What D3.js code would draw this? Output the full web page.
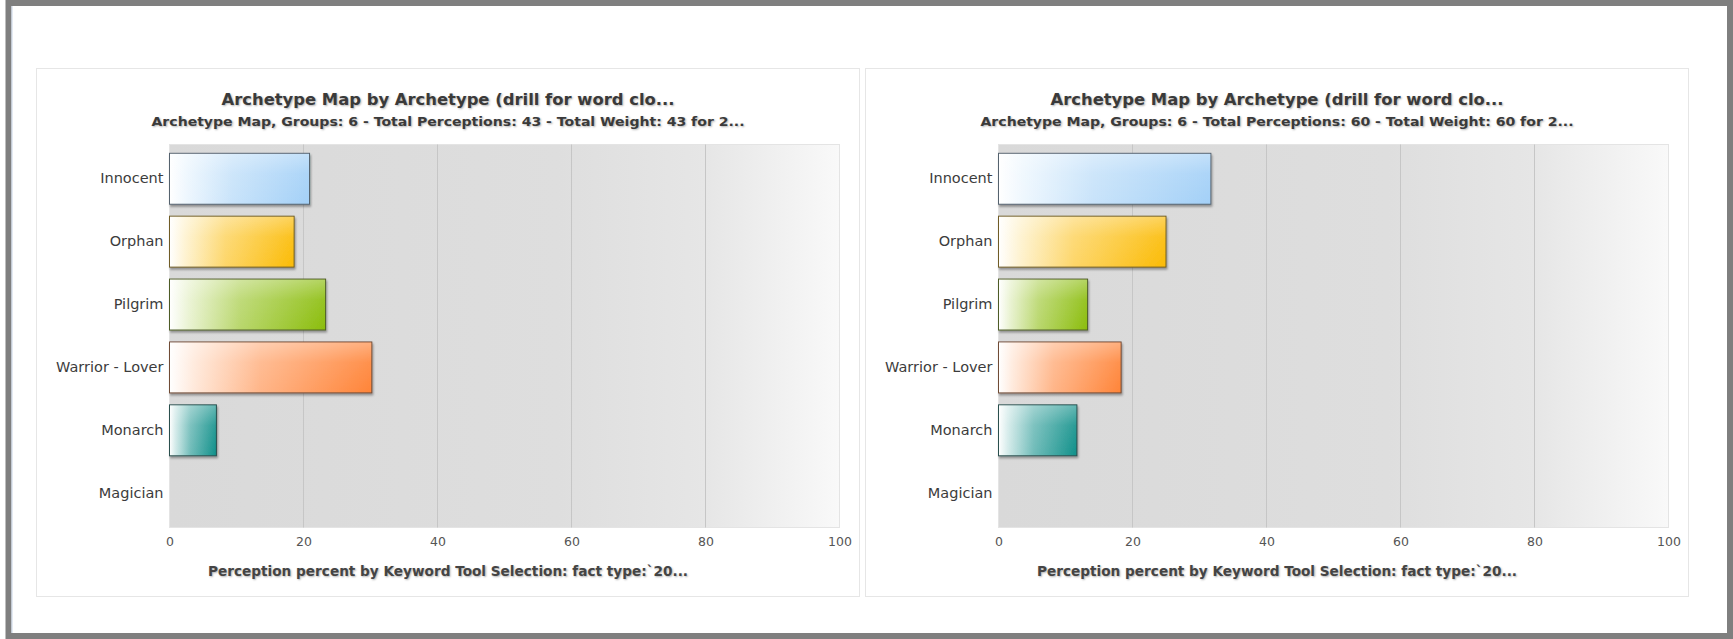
<!DOCTYPE html>
<html>
<head>
<meta charset="utf-8">
<script src="https://cdn.jsdelivr.net/npm/d3@7"></script>
<style>
  body { margin: 0; background: #fff; }
  text { font-family: "DejaVu Sans", Verdana, sans-serif; }
  .title { text-shadow: 1px 1px 2px rgba(0,0,0,0.3); }
</style>
</head>
<body>
<div id="my_dataviz"></div>
<script>
// data
const categories = ["Innocent", "Orphan", "Pilgrim", "Warrior - Lover", "Monarch", "Magician"];
const leftValues = [20.9, 18.6, 23.3, 30.2, 7.0, 0];
const rightValues = [31.7, 25.0, 13.3, 18.3, 11.7, 0];
const barColors = ["#a3d0f7", "#fbbb05", "#8bbd0c", "#ff8438", "#10908a", "#8a6cc0"];
const xTicks = [0, 20, 40, 60, 80, 100];
const chartTitle = "Archetype Map by Archetype (drill for word clo...";
const leftSubtitle = "Archetype Map, Groups: 6 - Total Perceptions: 43 - Total Weight: 43 for 2...";
const rightSubtitle = "Archetype Map, Groups: 6 - Total Perceptions: 60 - Total Weight: 60 for 2...";
const axisTitle = "Perception percent by Keyword Tool Selection: fact type:\u02CB20...";

const W = 1733, H = 639;

const svg = d3.select("#my_dataviz")
  .append("svg")
  .attr("width", W)
  .attr("height", H);

const defs = svg.append("defs");

// plot background: darker left, fading to near white on the right
const bg = defs.append("linearGradient").attr("id", "plotBg");
bg.append("stop").attr("offset", "0%").attr("stop-color", "#d9d9d9");
bg.append("stop").attr("offset", "58%").attr("stop-color", "#dedede");
bg.append("stop").attr("offset", "80%").attr("stop-color", "#e6e6e6");
bg.append("stop").attr("offset", "100%").attr("stop-color", "#f9f9f9");

// one gradient per bar colour, white on the left
barColors.forEach((c, i) => {
  const g = defs.append("linearGradient").attr("id", "bar" + i);
  g.append("stop").attr("offset", "0%").attr("stop-color", "#ffffff");
  g.append("stop").attr("offset", "12%").attr("stop-color", d3.interpolateRgb("#ffffff", c)(0.18));
  g.append("stop").attr("offset", "45%").attr("stop-color", d3.interpolateRgb("#ffffff", c)(0.6));
  g.append("stop").attr("offset", "100%").attr("stop-color", c);
});

// soft top highlight over the bars
const gloss = defs.append("linearGradient").attr("id", "gloss")
  .attr("x1", 0).attr("x2", 0).attr("y1", 0).attr("y2", 1);
gloss.append("stop").attr("offset", "0%").attr("stop-color", "#fff").attr("stop-opacity", 0.35);
gloss.append("stop").attr("offset", "40%").attr("stop-color", "#fff").attr("stop-opacity", 0.1);
gloss.append("stop").attr("offset", "100%").attr("stop-color", "#fff").attr("stop-opacity", 0);

const shadow = defs.append("filter").attr("id", "shadow")
  .attr("x", "-10%").attr("y", "-10%").attr("width", "130%").attr("height", "150%");
shadow.append("feDropShadow")
  .attr("dx", 1).attr("dy", 2).attr("stdDeviation", 1.2)
  .attr("flood-color", "#000").attr("flood-opacity", 0.35);

// outer grey frame
svg.append("rect")
  .attr("x", 8.5).attr("y", 3).attr("width", W - 11.5).attr("height", H - 6)
  .attr("fill", "#fff").attr("stroke", "#7f7f7f").attr("stroke-width", 6);
svg.append("line")
  .attr("x1", 12).attr("x2", 12).attr("y1", 6).attr("y2", H - 6)
  .attr("stroke", "#c9d6e8");

function drawPanel(px, values, subtitle) {
  const panelW = 823, panelH = 528;
  const margin = { top: 76, right: 20, bottom: 69, left: 133 };
  const width = panelW - margin.left - margin.right;
  const height = panelH - margin.top - margin.bottom;

  const panel = svg.append("g").attr("transform", `translate(${px},68.5)`);

  panel.append("rect")
    .attr("width", panelW).attr("height", panelH)
    .attr("fill", "#fff").attr("stroke", "#e6e6e6");

  const g = panel.append("g")
    .attr("transform", `translate(${margin.left},${margin.top})`);

  const x = d3.scaleLinear().domain([0, 100]).range([0, width]);
  const y = d3.scaleBand()
    .domain(categories)
    .range([0, height])
    .paddingInner(0.19)
    .paddingOuter(0.14);

  g.append("rect")
    .attr("width", width).attr("height", height)
    .attr("fill", "url(#plotBg)")
    .attr("stroke", "#e4e4e4");

  // vertical grid lines
  g.selectAll(".grid")
    .data(xTicks.slice(1, -1))
    .join("line")
    .attr("x1", d => x(d)).attr("x2", d => x(d))
    .attr("y1", 0).attr("y2", height)
    .attr("stroke", "#c6c6c6");

  // bars
  const bars = g.selectAll(".bar")
    .data(values)
    .join("g")
    .attr("filter", "url(#shadow)")
    .style("display", d => d > 0 ? null : "none");

  bars.append("rect")
    .attr("x", 0)
    .attr("y", (d, i) => y(categories[i]))
    .attr("width", d => x(d))
    .attr("height", y.bandwidth())
    .attr("fill", (d, i) => `url(#bar${i})`)
    .attr("stroke", (d, i) => d3.interpolateRgb(barColors[i], "#333")(0.7))
    .attr("stroke-width", 1);

  bars.append("rect")
    .attr("x", 0.5)
    .attr("y", (d, i) => y(categories[i]) + 0.5)
    .attr("width", d => Math.max(0, x(d) - 1))
    .attr("height", y.bandwidth() - 1)
    .attr("fill", "url(#gloss)");

  // category labels
  const yAxis = g.append("g")
    .call(d3.axisLeft(y).tickSize(0).tickPadding(6));
  yAxis.select(".domain").remove();
  yAxis.selectAll("text")
    .attr("fill", "#3c3c3c")
    .style("font-size", "14.5px")
    .style("font-family", "DejaVu Sans, sans-serif");

  // value axis
  const xAxis = g.append("g")
    .attr("transform", `translate(0,${height})`)
    .call(d3.axisBottom(x).tickValues(xTicks).tickSize(0).tickPadding(10));
  xAxis.select(".domain").remove();
  xAxis.selectAll("text")
    .attr("fill", "#555")
    .style("font-size", "12.5px")
    .style("font-family", "DejaVu Sans, sans-serif");

  panel.append("text")
    .attr("class", "title")
    .attr("x", panelW / 2).attr("y", 36)
    .attr("text-anchor", "middle")
    .attr("fill", "#3a3a3a")
    .attr("textLength", 453).attr("lengthAdjust", "spacingAndGlyphs")
    .style("font-size", "15.5px").style("font-weight", "bold")
    .text(chartTitle);

  panel.append("text")
    .attr("class", "title")
    .attr("x", panelW / 2).attr("y", 57)
    .attr("text-anchor", "middle")
    .attr("fill", "#3a3a3a")
    .attr("textLength", 593).attr("lengthAdjust", "spacingAndGlyphs")
    .style("font-size", "13px").style("font-weight", "bold")
    .text(subtitle);

  panel.append("text")
    .attr("class", "title")
    .attr("x", panelW / 2).attr("y", 507)
    .attr("text-anchor", "middle")
    .attr("fill", "#444")
    .attr("textLength", 480).attr("lengthAdjust", "spacingAndGlyphs")
    .style("font-size", "13.5px").style("font-weight", "bold")
    .text(axisTitle);
}

drawPanel(36.5, leftValues, leftSubtitle);
drawPanel(865.5, rightValues, rightSubtitle);
</script>
</body>
</html>
